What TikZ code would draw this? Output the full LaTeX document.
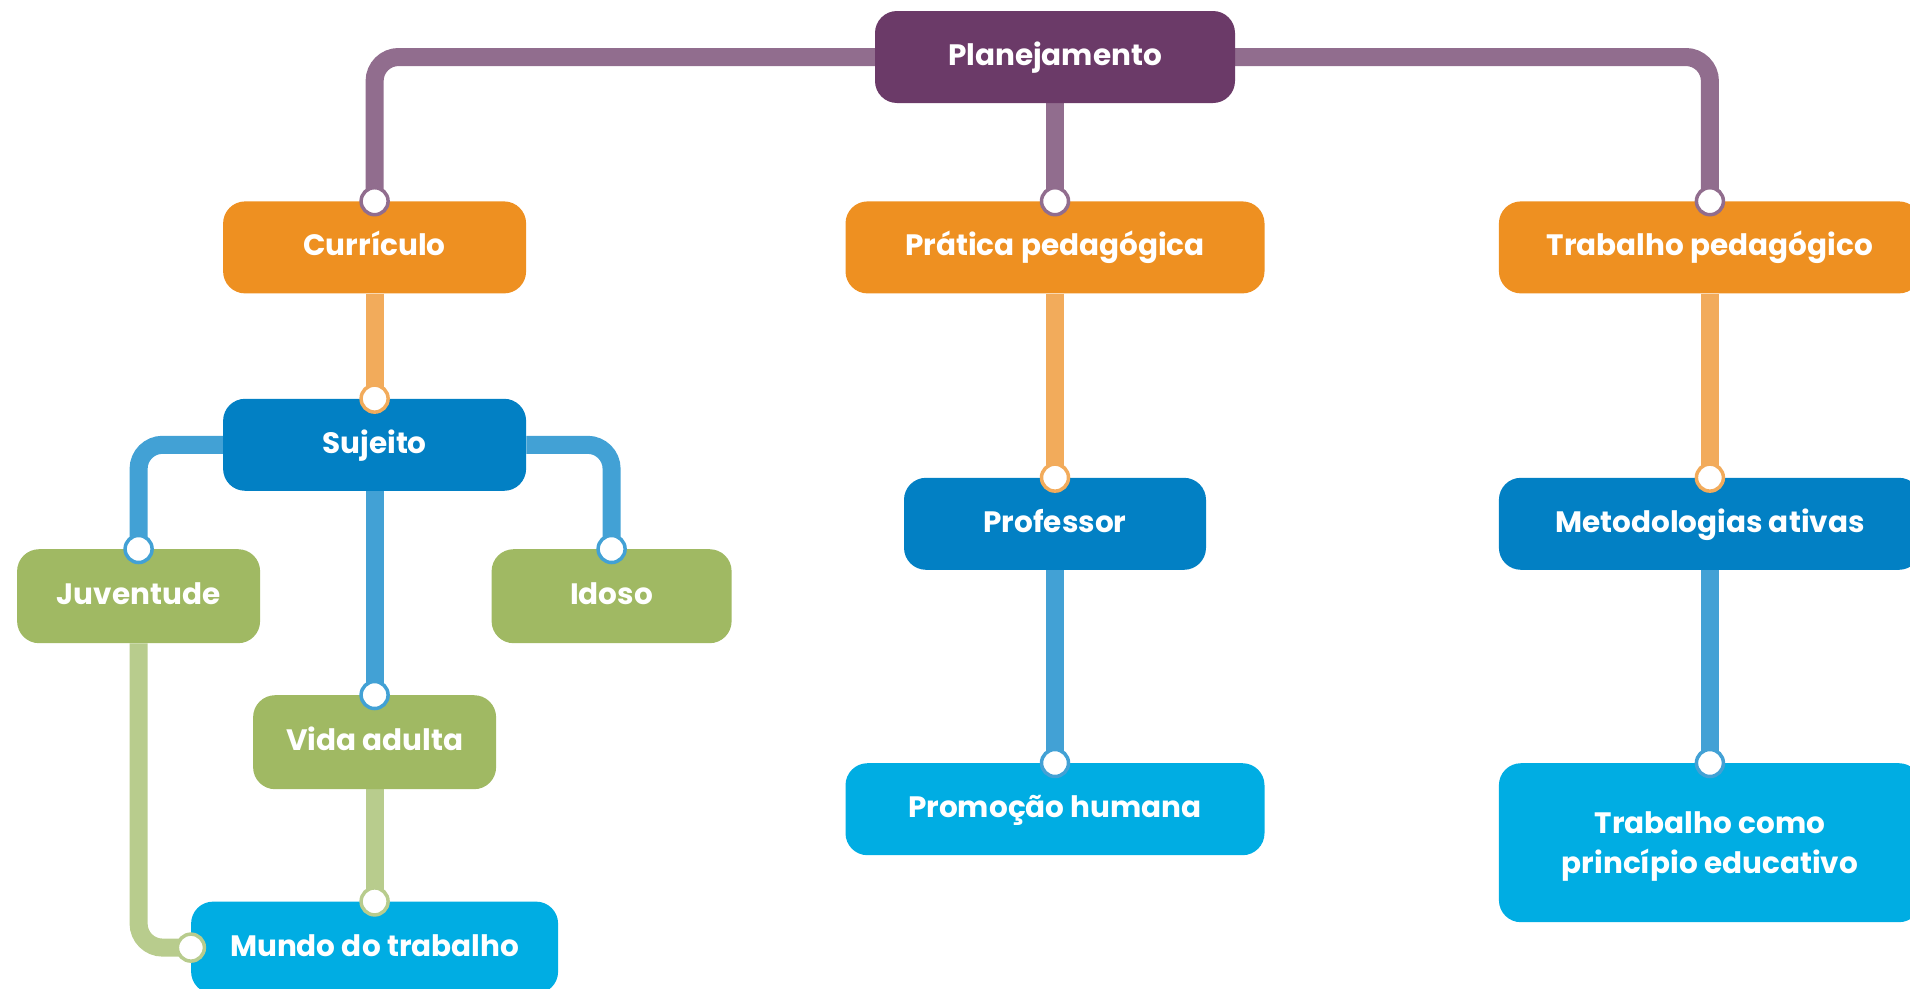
\documentclass[tikz,border=0pt]{standalone}
\usepackage{fontspec}
\setmainfont{Poppins}
\usetikzlibrary{positioning, calc, backgrounds}

\definecolor{plumbox}{HTML}{6B3A68}
\definecolor{plumline}{HTML}{916D8E}
\definecolor{orangebox}{HTML}{EE9021}
\definecolor{orangeline}{HTML}{F2AB5B}
\definecolor{bluebox}{HTML}{0280C4}
\definecolor{blueline}{HTML}{42A1D5}
\definecolor{greenbox}{HTML}{A0B963}
\definecolor{greenline}{HTML}{B8CC8D}
\definecolor{skybox}{HTML}{00ADE3}

\begin{document}
\begin{tikzpicture}[
    x=1pt, y=1pt,
    font=\fontsize{29.5}{40}\selectfont\bfseries,
    box/.style={rounded corners=22pt, text=white, align=center, inner sep=0pt,
                minimum height=92pt, text height=25pt, text depth=8pt},
    root/.style={box, fill=plumbox, minimum width=360pt},
    topic/.style={box, fill=orangebox},
    hub/.style={box, fill=bluebox},
    leaf/.style={box, fill=greenbox, minimum width=243pt, minimum height=94pt},
    goal/.style={box, fill=skybox},
    link/.style={line width=18pt, rounded corners=24pt},
    ring/.style={fill=white, draw=#1, line width=3.5pt},
]

\useasboundingbox (0,0) rectangle (1910,-988);

% ── root and first row ───────────────────────────────────────────────────────
\node[root] (plan) at (1055,-57) {Planejamento};
\node[topic, minimum width=419pt, below=98pt of plan] (prat) {Prática pedagógica};
\node[topic, minimum width=303pt, left=319pt of prat] (cur) {Currículo};
\node[topic, minimum width=422pt, right=234pt of prat] (trab) {Trabalho pedagógico};

% ── left branch ──────────────────────────────────────────────────────────────
\node[hub, minimum width=303pt, below=105pt of cur] (suj) {Sujeito};
\node[leaf, anchor=north] (juv) at ([xshift=-236pt, yshift=-58pt]suj.south) {Juventude};
\node[leaf, anchor=north, minimum width=240pt] (ido) at ([xshift=237pt, yshift=-58pt]suj.south) {Idoso};
\node[leaf, below=204pt of suj] (vida) {Vida adulta};
\node[goal, minimum width=367pt, below=112pt of vida] (mundo) {Mundo do trabalho};

% ── middle branch ────────────────────────────────────────────────────────────
\node[hub, minimum width=302pt, below=184pt of prat] (prof) {Professor};
\node[goal, minimum width=419pt, below=193pt of prof] (prom) {Promoção humana};

% ── right branch ─────────────────────────────────────────────────────────────
\node[hub, minimum width=422pt, below=184pt of trab] (met) {Metodologias ativas};
\node[goal, minimum width=422pt, minimum height=159pt, text height=, text depth=0pt,
      below=193pt of met] (tcpe)
    {Trabalho como\\princípio educativo};

% ── links ────────────────────────────────────────────────────────────────────
\begin{scope}[on background layer]
    \draw[link, plumline] (plan.west) -| (cur.north);
    \draw[link, plumline] (plan.east) -| (trab.north);
    \draw[link, plumline] (plan) -- (prat.north);
    \draw[link, orangeline] (cur) -- (suj.north);
    \draw[link, orangeline] (prat) -- (prof.north);
    \draw[link, orangeline] (trab) -- (met.north);
    \draw[link, blueline] (suj.west) -| (juv.north);
    \draw[link, blueline] (suj.east) -| (ido.north);
    \draw[link, blueline] (suj) -- (vida.north);
    \draw[link, blueline] (prof) -- (prom.north);
    \draw[link, blueline] (met) -- (tcpe.north);
    \draw[link, greenline] (vida) -- (mundo.north);
    \draw[link, greenline] (juv) |- (mundo.west);
\end{scope}

% ── joints ───────────────────────────────────────────────────────────────────
\foreach \n/\c in {cur/plumline, prat/plumline, trab/plumline,
                   suj/orangeline, prof/orangeline, met/orangeline,
                   juv/blueline, ido/blueline, vida/blueline, prom/blueline, tcpe/blueline}
    \draw[ring=\c] (\n.north) circle[radius=13.5pt];
\draw[ring=greenline] (mundo.north) circle[radius=13.5pt];
\draw[ring=greenline] (mundo.west) circle[radius=13.5pt];

\end{tikzpicture}
\end{document}
